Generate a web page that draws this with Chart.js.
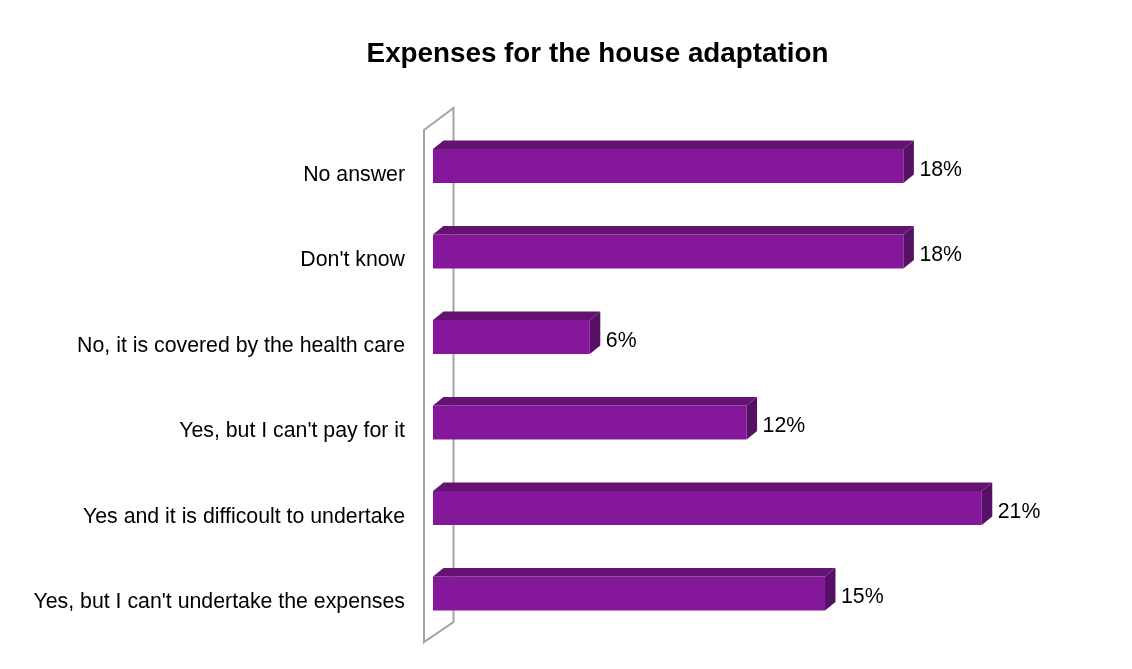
<!DOCTYPE html>
<html>
<head>
<meta charset="utf-8">
<script src="https://cdn.jsdelivr.net/npm/chart.js@4.4.0/dist/chart.umd.min.js"></script>
<style>
  html, body { margin: 0; padding: 0; background: #ffffff; }
  #wrap { width: 1132px; height: 669px; }
</style>
</head>
<body>
<div id="wrap"><canvas id="c" width="1132" height="669"></canvas></div>
<script>
const chartTitle = "Expenses for the house adaptation";
const categories = [
  "No answer",
  "Don't know",
  "No, it is covered by the health care",
  "Yes, but I can't pay for it",
  "Yes and it is difficoult to undertake",
  "Yes, but I can't undertake the expenses"
];
const values = [18, 18, 6, 12, 21, 15];
const valueLabels = ["18%", "18%", "6%", "12%", "21%", "15%"];

const FRONT = '#85189A';
const TOP = '#641373';
const SIDE = '#561065';
const DX = 10.5, DY = 8.5;
const FONT = '"Liberation Sans", Arial, sans-serif';

const decor = {
  id: 'decor',
  beforeDatasetsDraw(chart) {
    const ctx = chart.ctx;
    const a = chart.chartArea;
    ctx.save();
    ctx.strokeStyle = '#a3a3a3';
    ctx.lineWidth = 2;
    ctx.beginPath();
    ctx.moveTo(a.left - 9, a.top + 6.75);
    ctx.lineTo(a.left + 20.5, a.top - 15.25);
    ctx.lineTo(a.left + 20.5, a.bottom - 14.25);
    ctx.lineTo(a.left - 9, a.bottom + 5.75);
    ctx.closePath();
    ctx.stroke();
    ctx.restore();
  },
  afterDatasetsDraw(chart) {
    const ctx = chart.ctx;
    const meta = chart.getDatasetMeta(0);
    ctx.save();
    meta.data.forEach((bar, i) => {
      const p = bar.getProps(['x', 'y', 'base', 'height'], true);
      const x0 = p.base, x1 = p.x;
      const yt = p.y - p.height / 2, yb = p.y + p.height / 2;
      ctx.fillStyle = TOP;
      ctx.beginPath();
      ctx.moveTo(x0, yt);
      ctx.lineTo(x0 + DX, yt - DY);
      ctx.lineTo(x1 + DX, yt - DY);
      ctx.lineTo(x1, yt);
      ctx.closePath();
      ctx.fill();
      ctx.fillStyle = SIDE;
      ctx.beginPath();
      ctx.moveTo(x1, yt);
      ctx.lineTo(x1 + DX, yt - DY);
      ctx.lineTo(x1 + DX, yb - DY);
      ctx.lineTo(x1, yb);
      ctx.closePath();
      ctx.fill();
      ctx.fillStyle = '#000';
      ctx.font = '21.3px ' + FONT;
      ctx.textAlign = 'left';
      ctx.textBaseline = 'alphabetic';
      ctx.fillText(valueLabels[i], x1 + 16, p.y + 9.5);
    });
    ctx.restore();
  },
  afterDraw(chart) {
    const ctx = chart.ctx;
    ctx.save();
    ctx.fillStyle = '#000';
    ctx.font = 'bold 27.8px ' + FONT;
    ctx.textAlign = 'center';
    ctx.textBaseline = 'alphabetic';
    ctx.fillText(chartTitle, 597.5, 61.5);
    ctx.restore();
  }
};

new Chart(document.getElementById('c'), {
  type: 'bar',
  data: {
    labels: categories,
    datasets: [{
      data: values,
      backgroundColor: FRONT,
      borderWidth: 0,
      categoryPercentage: 1,
      barPercentage: 0.398
    }]
  },
  options: {
    indexAxis: 'y',
    responsive: false,
    animation: false,
    layout: { padding: { left: 0, right: 45.7, top: 123.25, bottom: 32.75 } },
    plugins: {
      legend: { display: false },
      title: { display: false },
      tooltip: { enabled: false }
    },
    scales: {
      x: {
        display: false,
        min: 0,
        max: 25
      },
      y: {
        grid: { display: false, drawTicks: false, tickLength: 0 },
        border: { display: false },
        ticks: {
          color: '#000',
          font: { family: FONT, size: 21.3 },
          padding: 28,
          labelOffset: 9
        },
        afterFit(scale) {
          scale.width = 433;
          scale.paddingTop = 0;
          scale.paddingBottom = 0;
        }
      }
    }
  },
  plugins: [decor]
});
</script>
</body>
</html>
